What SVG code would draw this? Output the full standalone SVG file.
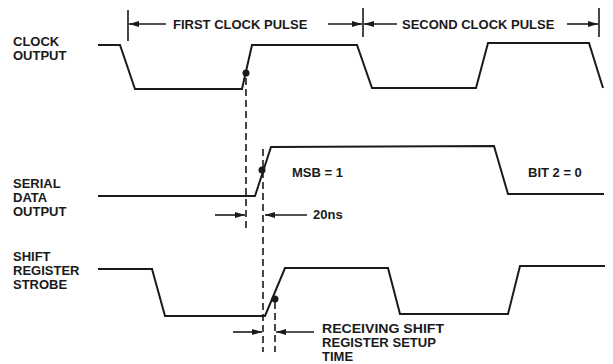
<svg xmlns="http://www.w3.org/2000/svg" width="613" height="364" viewBox="0 0 613 364">
<style>
.t{font-family:"Liberation Sans",Arial,sans-serif;font-weight:bold;font-size:13px;fill:#1a1a1a}
.w{fill:none;stroke:#1a1a1a;stroke-width:2;stroke-linejoin:miter}
.d{fill:none;stroke:#1a1a1a;stroke-width:1.6;stroke-dasharray:7,4}
.l{fill:none;stroke:#1a1a1a;stroke-width:1.6}
.dot{fill:#1a1a1a}
</style>
<defs>
<marker id="ah" viewBox="0 0 10 6" refX="10" refY="3" markerWidth="10" markerHeight="6" markerUnits="userSpaceOnUse" orient="auto">
<path d="M0,0 L10,3 L0,6 Z" fill="#1a1a1a"/>
</marker>
</defs>
<rect width="613" height="364" fill="#ffffff"/>
<g id="labels">
<text class="t" x="13" y="46">CLOCK</text>
<text class="t" x="13" y="60">OUTPUT</text>
<text class="t" x="13" y="188" font-size="13.5">SERIAL</text>
<text class="t" x="13" y="202" font-size="13.5">DATA</text>
<text class="t" x="13" y="216" font-size="13.5">OUTPUT</text>
<text class="t" x="13" y="261" font-size="14">SHIFT</text>
<text class="t" x="13" y="275" font-size="14">REGISTER</text>
<text class="t" x="13" y="289" font-size="14">STROBE</text>
<text class="t" x="173" y="29">FIRST CLOCK PULSE</text>
<text class="t" x="402" y="29">SECOND CLOCK PULSE</text>
<text class="t" x="292" y="177">MSB = 1</text>
<text class="t" x="528" y="177" font-size="14">BIT 2 = 0</text>
<text class="t" x="313" y="219">20ns</text>
<text class="t" x="322" y="333" textLength="122" lengthAdjust="spacingAndGlyphs">RECEIVING SHIFT</text>
<text class="t" x="322" y="347" textLength="114" lengthAdjust="spacingAndGlyphs">REGISTER SETUP</text>
<text class="t" x="322" y="361">TIME</text>
</g>
<g id="clock">
<path class="w" d="M98,45 L120,45 L135,89 L242,89 L252,45 L357,45 L372,88 L476,88 L488,43 L589,43 L603,88"/>
<circle class="dot" cx="246" cy="73" r="3.5"/>
</g>
<g id="serial-data">
<path class="w" d="M98,196 L255,196 L271,147 L494,146 L508,194 L604,194"/>
<circle class="dot" cx="262" cy="170" r="3.5"/>
</g>
<g id="strobe">
<path class="w" d="M98,269 L152,269 L165,316 L265,316 L285,268 L388,268 L400,314 L508,314 L520,266 L605,266"/>
<circle class="dot" cx="275" cy="299" r="3.5"/>
</g>
<g id="connectors">
<line class="l" x1="128" y1="10" x2="128" y2="41"/>
<line class="l" x1="363" y1="8" x2="363" y2="37"/>
<line class="l" x1="599" y1="8" x2="599" y2="37"/>
<line class="l" x1="166" y1="24" x2="129" y2="24" marker-end="url(#ah)"/>
<line class="l" x1="328" y1="24" x2="362" y2="24" marker-end="url(#ah)"/>
<line class="l" x1="397" y1="24" x2="364" y2="24" marker-end="url(#ah)"/>
<line class="l" x1="567" y1="24" x2="598" y2="24" marker-end="url(#ah)"/>
<line class="d" x1="246" y1="78" x2="246" y2="232"/>
<line class="d" x1="263" y1="149" x2="263" y2="352"/>
<line class="d" x1="275" y1="302" x2="275" y2="352"/>
<line class="l" x1="215" y1="215" x2="245" y2="215" marker-end="url(#ah)"/>
<line class="l" x1="307" y1="215" x2="265" y2="215" marker-end="url(#ah)"/>
<line class="l" x1="233" y1="332" x2="262" y2="332" marker-end="url(#ah)"/>
<line class="l" x1="314" y1="332" x2="276" y2="332" marker-end="url(#ah)"/>
</g>
</svg>
